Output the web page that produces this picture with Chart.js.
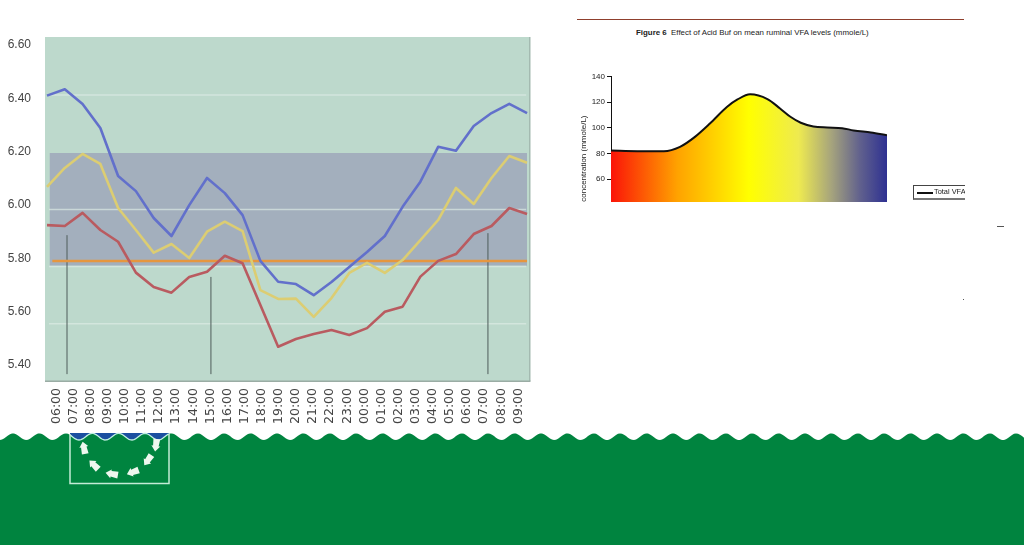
<!DOCTYPE html>
<html>
<head>
<meta charset="utf-8">
<title>Rumen pH and VFA levels</title>
<script src="https://cdn.jsdelivr.net/npm/chart.js@4"></script>
<style>
html, body { margin: 0; padding: 0; background: #fff; overflow: hidden; }
body { width: 1024px; height: 545px; position: relative; font-family: "Liberation Sans", sans-serif; filter: blur(0.4px); }
#waves { position: absolute; left: 0; top: 0; }
#phBox { position: absolute; left: 0; top: 0; width: 540px; height: 432px; }
#vfaBox { position: absolute; left: 575px; top: 60px; width: 392px; height: 142px; overflow: hidden; }
#vfaInner { position: relative; width: 392px; height: 190px; }
#rule { position: absolute; left: 577px; top: 19px; width: 387px; height: 1px; background: #8f3f2d; }
#figTitle { position: absolute; left: 636px; top: 28px; font-size: 7.9px; line-height: 10px; color: #222; white-space: nowrap; }
#legend { position: absolute; left: 913px; top: 185px; width: 51px; height: 12px; border-left: 1px solid #444; border-top: 1px solid #444; border-bottom: 2px solid #777; overflow: hidden; }
#legend i { position: absolute; left: 3px; top: 6px; width: 16px; height: 2px; background: #111; }
#legend span { position: absolute; left: 20px; top: 1px; font-size: 7.4px; line-height: 10px; color: #222; white-space: nowrap; }
.speck { position: absolute; background: #555; }
</style>
</head>
<body>
<svg id="waves" width="1024" height="545"></svg>
<div id="phBox"><canvas id="phChart"></canvas></div>
<div id="rule"></div>
<div id="figTitle"><b>Figure 6</b>&nbsp; Effect of Acid Buf on mean ruminal VFA levels (mmole/L)</div>
<div id="vfaBox"><div id="vfaInner"><canvas id="vfaChart"></canvas></div></div>
<div id="legend"><i></i><span>Total VFA</span></div>
<div class="speck" style="left:997px;top:226px;width:7px;height:1px"></div>
<div class="speck" style="left:963px;top:299px;width:1px;height:1px"></div>

<script>
// left chart
var timeLabels = ['06:00','07:00','08:00','09:00','10:00','11:00','12:00','13:00','14:00','15:00','16:00','17:00','18:00','19:00',
    '20:00','21:00','22:00','23:00','00:00','01:00','02:00','03:00','04:00','05:00','06:00','07:00','08:00','09:00'];
var blueValues = [6.398,6.42,6.369,6.285,6.117,6.064,5.97,5.907,6.015,6.11,6.057,5.98,5.82,5.747,
    5.739,5.70,5.746,5.799,5.851,5.907,6.009,6.097,6.219,6.205,6.292,6.337,6.369,6.337];
var yellowValues = [6.079,6.145,6.194,6.159,6.005,5.928,5.849,5.879,5.83,5.922,5.957,5.924,5.718,5.687,
    5.688,5.624,5.69,5.778,5.813,5.778,5.823,5.893,5.963,6.075,6.019,6.11,6.187,6.163];
var redValues = [5.945,5.942,5.988,5.928,5.887,5.779,5.729,5.709,5.764,5.782,5.838,5.812,5.666,5.52,
    5.547,5.564,5.578,5.561,5.585,5.642,5.66,5.765,5.82,5.844,5.914,5.942,6.005,5.984];
var yTickValues = [5.4,5.6,5.8,6.0,6.2,6.4,6.6];
var gridValues = [5.6,5.8,6.0,6.4];
var bandValues = [5.803,6.197];
var thresholdValue = 5.82;
var eventMarks = [[1.125,5.91],[9.22,5.764],[24.8,5.917]];
var markBase = 5.424;

// right chart
var vfaHours = [0,2.3,4.6,6,7.3,8.6,10.1,11,12.1,13.6,14.7,15.6,16.5,17.6,18.8,20.1,21.1,22.6,24];
var vfaValues = [82.3,81.8,81.8,85.2,93,103.4,116.5,122.2,126.2,122.5,115.2,108.7,104,101.1,100.3,99.8,98,96.4,94.3];
var vfaTicks = [40,60,80,100,120,140];

function flatLine(y, from, to, color, width, order)
{
    return {
        data: [{x: from, y: y}, {x: to, y: y}],
        borderColor: color, borderWidth: width, pointRadius: 0, fill: false, order: order,
        xAxisID: 'xData', yAxisID: 'yData'
    };
}

function seriesLine(values, color, order)
{
    return {
        data: values.map(function(v, i) { return {x: i, y: v}; }),
        borderColor: color, borderWidth: 2.6, pointRadius: 0, fill: false, order: order,
        borderJoinStyle: 'round', xAxisID: 'xData', yAxisID: 'yData'
    };
}

var phSets = [];
phSets.push(seriesLine(blueValues, '#6270cb', 1));
phSets.push(seriesLine(yellowValues, '#dccd72', 2));
phSets.push(seriesLine(redValues, '#b95b60', 3));
phSets.push(flatLine(thresholdValue, 0.3, 27, '#e6963f', 2.5, 4));
eventMarks.forEach(function(m) {
    phSets.push({
        data: [{x: m[0], y: markBase}, {x: m[0], y: m[1]}],
        borderColor: '#4e5c5a', borderWidth: 1, pointRadius: 0, order: 5,
        xAxisID: 'xData', yAxisID: 'yData'
    });
});
gridValues.forEach(function(v) {
    phSets.push(flatLine(v, 0.11, 26.95, v == 5.8 ? '#d3e5de' : 'rgba(222,236,230,0.65)', 1.5, 6));
});
phSets.push({
    data: [{x: 0.14, y: bandValues[1]}, {x: 27, y: bandValues[1]}],
    borderWidth: 0, pointRadius: 0, backgroundColor: '#a3afbd', fill: {value: bandValues[0]}, order: 7,
    xAxisID: 'xData', yAxisID: 'yData'
});

var panelPlugin = {
    id: 'panel',
    beforeDraw: function(chart) {
        var a = chart.chartArea, c = chart.ctx;
        c.save();
        c.fillStyle = '#bdd9cc';
        c.fillRect(a.left, a.top, a.right - a.left, a.bottom - a.top);
        c.fillStyle = '#a3bab0';
        c.fillRect(a.right - 1, a.top, 1.5, a.bottom - a.top);
        c.fillStyle = '#9aaca4';
        c.fillRect(a.left, a.bottom - 0.5, a.right - a.left + 0.5, 1.5);
        c.restore();
    }
};

new Chart(document.getElementById('phChart'), {
    type: 'line',
    data: {datasets: phSets},
    plugins: [panelPlugin],
    options: {
        responsive: true,
        maintainAspectRatio: false,
        animation: false,
        layout: {padding: {top: 37, right: 10, left: 0, bottom: 0}},
        plugins: {legend: {display: false}, tooltip: {enabled: false}},
        elements: {line: {tension: 0}},
        scales: {
            xData: {type: 'linear', axis: 'x', display: false, min: -0.1125, max: 27.165},
            yData: {type: 'linear', axis: 'y', display: false, min: 5.4, max: 6.603},
            // the tick labels in the picture do not sit on the plotted scale, so they get their own axes
            xTicks: {
                type: 'linear', axis: 'x', position: 'bottom', min: -0.67, max: 27.68,
                grid: {display: false}, border: {display: false},
                afterBuildTicks: function(s) { s.ticks = timeLabels.map(function(t, i) { return {value: i}; }); },
                afterFit: function(s) { s.height = 51; },
                ticks: {
                    autoSkip: false, minRotation: 90, maxRotation: 90, padding: -1, color: '#444',
                    font: {family: 'DejaVu Sans', size: 12.5},
                    callback: function(v) { return timeLabels[v]; }
                }
            },
            yTicks: {
                type: 'linear', axis: 'y', position: 'left', min: 5.34, max: 6.63,
                grid: {display: false}, border: {display: false},
                afterBuildTicks: function(s) { s.ticks = yTickValues.map(function(v) { return {value: v}; }); },
                afterFit: function(s) { s.width = 45; },
                ticks: {
                    padding: 6, color: '#444',
                    font: {family: 'Liberation Sans', size: 12},
                    callback: function(v) { return v.toFixed(2); }
                }
            }
        }
    }
});

new Chart(document.getElementById('vfaChart'), {
    type: 'line',
    data: {
        datasets: [{
            label: 'Total VFA',
            data: vfaHours.map(function(h, i) { return {x: h, y: vfaValues[i]}; }),
            borderColor: '#111',
            borderWidth: 2,
            pointRadius: 0,
            cubicInterpolationMode: 'monotone',
            fill: 'start',
            backgroundColor: function(ctx) {
                var a = ctx.chart.chartArea;
                if (!a) return 'transparent';
                var g = ctx.chart.ctx.createLinearGradient(a.left, 0, a.right, 0);
                g.addColorStop(0, '#fb1408');
                g.addColorStop(0.24, '#ffa200');
                g.addColorStop(0.5, '#ffff00');
                g.addColorStop(0.68, '#eeea50');
                g.addColorStop(0.8, '#a5a37d');
                g.addColorStop(0.9, '#62628d');
                g.addColorStop(1, '#2e3192');
                return g;
            }
        }]
    },
    options: {
        responsive: true,
        maintainAspectRatio: false,
        animation: false,
        layout: {padding: {top: 16.7, right: 80, left: 0, bottom: 9.5}},
        plugins: {legend: {display: false}, tooltip: {enabled: false}},
        scales: {
            x: {type: 'linear', display: false, min: 0, max: 24},
            y: {
                min: 12, max: 140,
                afterBuildTicks: function(s) { s.ticks = vfaTicks.map(function(v) { return {value: v}; }); },
                afterFit: function(s) { s.width = 36; },
                grid: {drawOnChartArea: false, tickLength: 4, color: '#111'},
                border: {color: '#111'},
                title: {
                    display: true, text: 'concentration (mmole/L)', color: '#222',
                    padding: {top: 4, bottom: 0}, font: {family: 'Liberation Sans', size: 8}
                },
                ticks: {padding: 2, color: '#222', font: {family: 'Liberation Sans', size: 8}}
            }
        }
    }
});

// green strip along the bottom with the little tank drawn in it
function waveY(x) { return 436.7 - 3.3 * Math.cos(2 * Math.PI * (x - 13) / 26.4); }

function drawStrip()
{
    var green = 'M0 545', blue = 'M70 433', crest = '', x;
    for (x = 0; x <= 1024; x += 2) green += ' L' + x + ' ' + waveY(x).toFixed(2);
    green += ' L1024 545 Z';
    for (x = 70; x <= 169; x += 1) {
        blue += ' L' + x + ' ' + waveY(x).toFixed(2);
        crest += (x == 70 ? 'M' : ' L') + x + ' ' + waveY(x).toFixed(2);
    }
    blue += ' L169 433 Z';
    var arrows = [[84,448,-12],[94,465,-45],[112,474,-80],[133,472,-110],[148,460,-145],[156,445,-172]];
    var html = '<path d="' + green + '" fill="#00843f"/>'
        + '<path d="' + blue + '" fill="#1b4fa0"/>'
        + '<path d="' + crest + '" fill="none" stroke="#bfeee2" stroke-width="1.3"/>'
        + '<path d="M70 434 V483.5 H169 V434" fill="none" stroke="#c4ecd6" stroke-width="1.5"/>';
    arrows.forEach(function(a) {
        html += '<polygon points="0,-6.5 4.5,-1 2.8,-1 3.4,6 -3.4,6 -2.8,-1 -4.5,-1" fill="#eef7ee" transform="translate(' + a[0] + ' ' + a[1] + ') rotate(' + a[2] + ')"/>';
    });
    document.getElementById('waves').innerHTML = html;
}
drawStrip();
</script>
</body>
</html>
